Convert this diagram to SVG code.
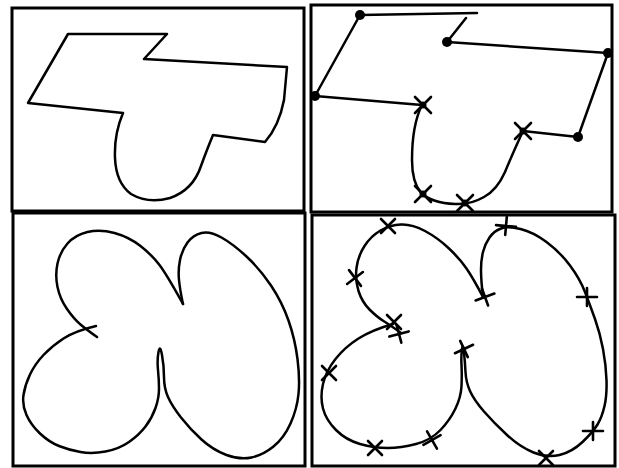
<svg xmlns="http://www.w3.org/2000/svg" xmlns:xlink="http://www.w3.org/1999/xlink" width="619" height="468" viewBox="0 0 619 468">
<style>
.frame{fill:none;stroke:#000;stroke-width:3}
.curve{fill:none;stroke:#000;stroke-width:2.5;stroke-linejoin:round;stroke-linecap:round}
.mk{fill:none;stroke:#000;stroke-width:2.6;stroke-linecap:round}
.dot{fill:#000}
</style>
<defs>
<path id="x" class="mk" d="M-7,-7 L7,7 M-7,7 L7,-7"/>
<path id="p" class="mk" d="M-10,0 L10,0 M0,-9 L0,9"/>
<g id="bx"><path class="mk" d="M-8,-8 L8,8 M-8,8 L8,-8"/><circle r="3.5" class="dot"/></g>
</defs>
<rect width="619" height="468" fill="#fff"/>
<g id="panel-tl">
<rect class="frame" x="12" y="8" width="292" height="203"/>
<path class="curve" d="M68,34 L167,34 L144,59 L287,67 L284,100 Q279,126 265,142 L213,135 Q206,152 201,166 Q193,190 170,198 Q148,204 131,194 Q116,183 115,158 Q114,134 123,113 L28,103 Z"/>
</g>
<g id="panel-tr">
<rect class="frame" x="311" y="5" width="301" height="207"/>
<path class="curve" d="M360,15 L477,13 M466,18 L447,42 L608,53 L578,137 L523,131 Q512,155 505,172 Q497,190 484,197 Q470,205 455,204 Q432,203 421,193 Q412,182 412,160 Q412,125 422,105 L315,96 L360,15"/>
<circle class="dot" cx="360" cy="15" r="5"/>
<circle class="dot" cx="447" cy="42" r="5"/>
<circle class="dot" cx="608" cy="53" r="5"/>
<circle class="dot" cx="578" cy="137" r="5"/>
<circle class="dot" cx="315" cy="96" r="5"/>
<use xlink:href="#bx" transform="translate(423,105)"/>
<use xlink:href="#bx" transform="translate(523,131)"/>
<use xlink:href="#bx" transform="translate(423,194)"/>
<use xlink:href="#bx" transform="translate(465,203)"/>
</g>
<g id="panel-bl">
<rect class="frame" x="13" y="213" width="292" height="253"/>
<path class="curve" d="M97,337 Q87,330 80.5,324.5 Q74,319 67,309 Q60,299 57.5,287 Q55,275 57.5,263.5 Q60,252 67.5,243.5 Q75,235 87.5,232 Q100,229 114.5,233 Q129,237 140.5,246 Q152,255 159.5,265 Q167,275 183,304"/>
<path class="curve" d="M183,304 Q180,290 179,280 Q178,270 180,260 Q182,250 187.5,242.5 Q193,235 201.5,233 Q210,231 221.5,237.5 Q233,244 246.5,256.5 Q260,269 271,285.5 Q282,302 288.5,320.5 Q295,339 297.5,359 Q300,379 298.5,394 Q297,409 290.5,423.5 Q284,438 273.5,446.5 Q263,455 251.5,457.5 Q240,460 226.5,455 Q213,450 201.5,439.5 Q190,429 181,417.5 Q172,406 168,397 Q164,388 164,377 Q164,366 162,355 Q160,344 158.5,352 Q157,360 158,370 Q159,380 159,389 Q159,398 155.5,408 Q152,418 145.5,426.5 Q139,435 129,442 Q119,449 105.5,451.5 Q92,454 80.5,452 Q69,450 59,446 Q49,442 40,433.5 Q31,425 26.5,415 Q22,405 23.5,395 Q25,385 30,374.5 Q35,364 43.5,355 Q52,346 63.5,338.5 Q75,331 96,326"/>
</g>
<g id="panel-br">
<rect class="frame" x="312" y="215" width="303" height="251"/>
<path class="curve" d="M401,333 Q390,325 383.5,321 Q377,317 369.5,309.5 Q362,302 358.5,291 Q355,280 356.5,268 Q358,256 364.5,246 Q371,236 380.5,230.5 Q390,225 401,224.5 Q412,224 425,231 Q438,238 449,248.5 Q460,259 466.5,268.5 Q473,278 483,297"/>
<path class="curve" d="M483,297 Q481,280 481,270 Q481,260 483,252 Q485,244 489.5,237.5 Q494,231 501,228.5 Q508,226 520.5,229 Q533,232 546.5,242 Q560,252 570,265.5 Q580,279 585,292 Q590,305 595,319 Q600,333 603,349 Q606,365 606.5,380 Q607,395 604.5,406 Q602,417 597.5,424.5 Q593,432 582.5,442 Q572,452 559.5,455 Q547,458 533.5,452.5 Q520,447 507,435 Q494,423 484,411.5 Q474,400 470,391 Q466,382 465.5,372 Q465,362 464,352.5 Q463,343 462,349 Q461,355 461.5,365 Q462,375 461.5,386 Q461,397 455.5,408.5 Q450,420 440.5,430 Q431,440 416,444 Q401,448 387.5,448 Q374,448 360,444 Q346,440 336,430 Q326,420 323,408.5 Q320,397 323,384 Q326,371 335.5,359 Q345,347 358.5,338.5 Q372,330 393,324"/>
<use xlink:href="#x" transform="translate(388,226)"/>
<use xlink:href="#x" transform="translate(355,278) rotate(8)"/>
<use xlink:href="#x" transform="translate(394,322)"/>
<use xlink:href="#p" transform="translate(399,334) rotate(-15)"/>
<use xlink:href="#p" transform="translate(506,226) rotate(5)"/>
<use xlink:href="#p" transform="translate(485,297) rotate(-20)"/>
<use xlink:href="#p" transform="translate(587,297)"/>
<use xlink:href="#p" transform="translate(464,349) rotate(-25)"/>
<use xlink:href="#x" transform="translate(329,373)"/>
<use xlink:href="#x" transform="translate(375,448)"/>
<use xlink:href="#x" transform="translate(432,440) rotate(15)"/>
<use xlink:href="#p" transform="translate(593,431)"/>
<use xlink:href="#x" transform="translate(546,458)"/>
</g>
</svg>
